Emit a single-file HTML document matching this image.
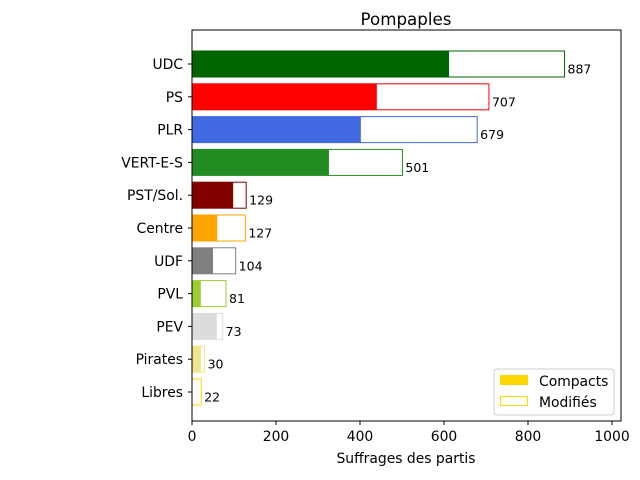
<!DOCTYPE html>
<html><head><meta charset="utf-8"><style>
body{margin:0;background:#fff}
svg{display:block;font-family:"DejaVu Sans","Liberation Sans",sans-serif}
</style></head><body>
<svg id="chart" width="640" height="480" viewBox="0 0 640 480" xmlns="http://www.w3.org/2000/svg">
<text x="406" y="25" font-size="16.7" text-anchor="middle">Pompaples</text>
<g id="plot"></g>
<rect x="192" y="30" width="429" height="391" fill="none" stroke="#000" stroke-width="1"/>
<text x="406" y="463" font-size="13.9" text-anchor="middle">Suffrages des partis</text>
<g>
<rect x="494" y="369" width="120" height="46" fill="#fff" stroke="#ccc" rx="3"/>
<rect x="500" y="375" width="28" height="10" fill="#ffd700"/>
<text x="539" y="386" font-size="13.9">Compacts</text>
<rect x="500.5" y="396.5" width="27" height="9" fill="#fff" stroke="#ffd700"/>
<text x="539" y="407" font-size="13.9">Modifiés</text>
</g>
</svg>
<script>
const parties=["UDC","PS","PLR","VERT-E-S","PST/Sol.","Centre","UDF","PVL","PEV","Pirates","Libres"];
const totals=[887,707,679,501,129,127,104,81,73,30,22];
const compacts=[612,440,402,326,98,60,50,21,59,21,0];
const colors=["#006400","#ff0000","#4169e1","#228b22","#800000","#ffa500","#808080","#9acd32","#dcdcdc","#f0e68c","#ffd700"];
const xTicks=[0,200,400,600,800,1000];
const NS="http://www.w3.org/2000/svg";
const g=document.getElementById("plot");
const x=v=>192+v*0.42;
const y=i=>64+i*32.8;
function mk(t,a){const e=document.createElementNS(NS,t);for(const k in a)e.setAttribute(k,a[k]);g.appendChild(e);return e;}
parties.forEach((p,i)=>{
  const yc=y(i);
  const m=mk("rect",{x:x(0),y:yc-13,width:x(totals[i])-x(0),height:26,fill:"#fff",stroke:colors[i],"stroke-width":1});
  
  
  const c=mk("rect",{x:x(0),y:yc-13,width:x(compacts[i])-x(0),height:26,fill:colors[i]});
  
  
  const v=mk("text",{x:x(totals[i])+3,y:yc+9.5,"font-size":12.5});
  v.textContent=totals[i];
  
  
  mk("line",{x1:188,x2:192,y1:yc,y2:yc,stroke:"#000"});
  const l=mk("text",{x:183,y:yc+5,"font-size":13.9,"text-anchor":"end"});
  l.textContent=p;
  
  
});
xTicks.forEach(t=>{
  mk("line",{x1:x(t),x2:x(t),y1:421,y2:425,stroke:"#000"});
  const l=mk("text",{x:x(t),y:441,"font-size":13.9,"text-anchor":"middle"});
  l.textContent=t;
  
  
});
</script>
</body></html>
